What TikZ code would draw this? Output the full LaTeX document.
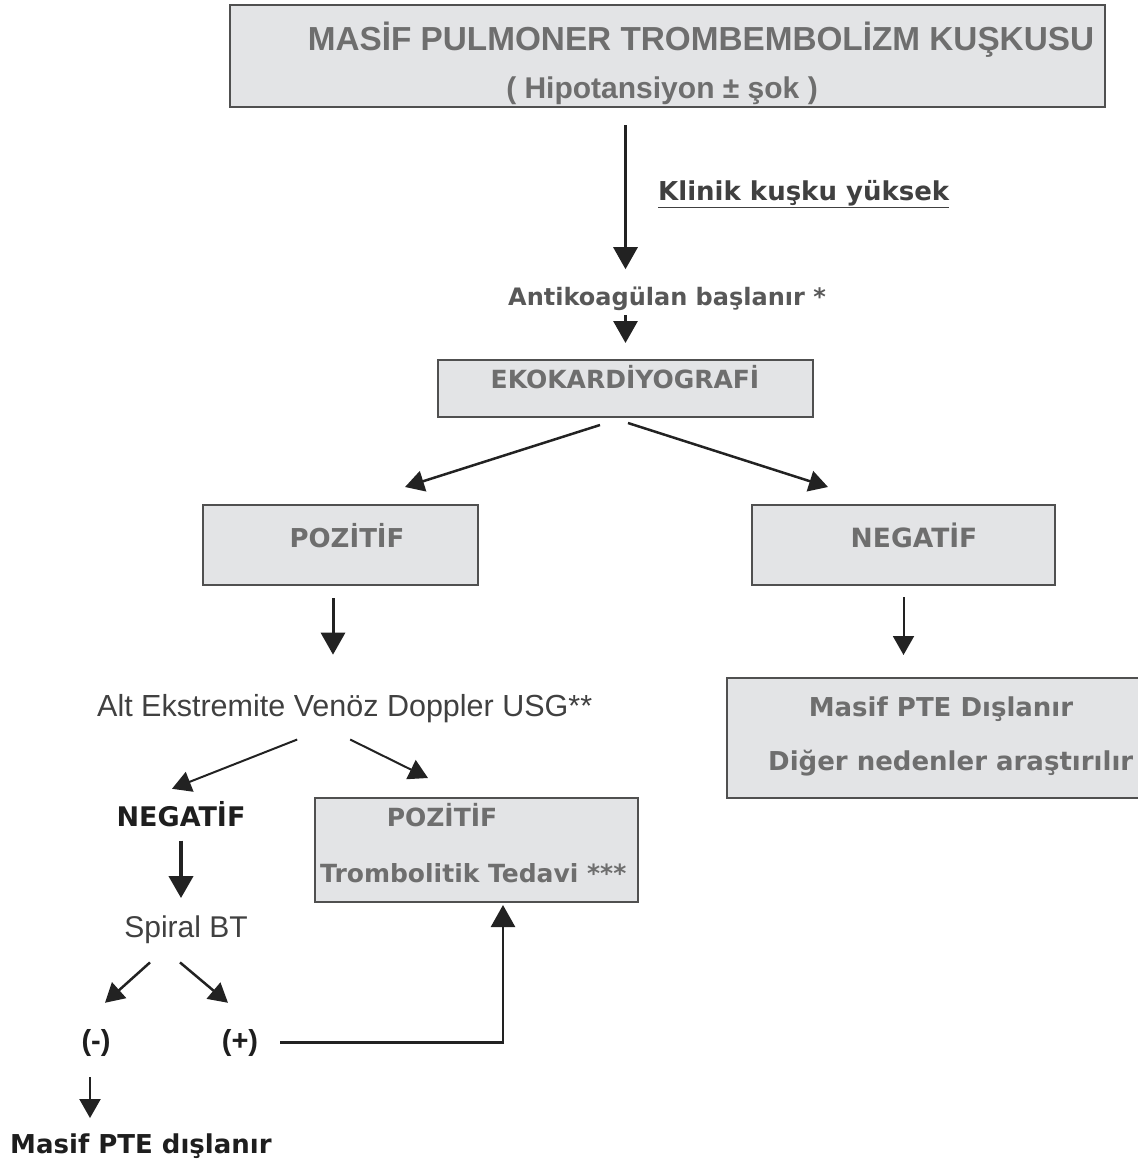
\documentclass[tikz,border=0pt]{standalone}
\usepackage{fontspec}
\setmainfont{Liberation Sans}
\newfontfamily\verdfont{DejaVu Sans}
\usepackage{tikz}
\usetikzlibrary{arrows.meta}
\definecolor{kutuzemin}{HTML}{E3E4E6}
\definecolor{kutucizgi}{HTML}{505050}
\definecolor{griyazi}{HTML}{6E6E6E}
\definecolor{koyuyazi}{HTML}{1E1E1E}
\definecolor{okrenk}{HTML}{222222}
\tikzset{
  kutu/.style={draw=kutucizgi, fill=kutuzemin, line width=2.2pt, inner sep=0pt, outer sep=0pt},
  yazi/.style={inner sep=0pt, anchor=base, text=griyazi},
  kalin/.style={font=\verdfont\bfseries\fontsize{#1}{#1}\selectfont},
  arial/.style={font=\fontsize{#1}{#1}\selectfont},
  ok/.style={draw=okrenk, line width=3pt, -{Triangle[width=24pt,length=22pt]}},
  ince/.style={draw=okrenk, line width=2pt, -{Triangle[width=21pt,length=19pt]}}
}
\begin{document}
\begin{tikzpicture}[x=1pt,y=-1pt]
\useasboundingbox (0,0) rectangle (1138,1165);
\clip (0,0) rectangle (1138,1165);
\node[kutu, minimum width=875pt, minimum height=102pt] (ust) at (667.5,56) {};
\node[kutu, minimum width=375pt, minimum height=57pt] (eko) at (625.5,388.5) {};
\node[kutu, minimum width=275pt, minimum height=80pt] (pozkutu) at (340.5,545) {};
\node[kutu, minimum width=303pt, minimum height=80pt] (negkutu) at (903.5,545) {};
\node[kutu, minimum width=443pt, minimum height=120pt] (diskutu) at (948.5,738) {};
\node[kutu, minimum width=323pt, minimum height=104pt] (trombo) at (476.5,850) {};
\node[yazi, font=\bfseries\fontsize{33.3}{33}\selectfont] (baslik) at (701,50) {MASİF PULMONER TROMBEMBOLİZM KUŞKUSU};
\node[yazi, font=\bfseries\fontsize{30}{30}\selectfont] (hipo) at (662,98) {( Hipotansiyon ± şok )};
\node[yazi, kalin=26, text=koyuyazi!85!white, anchor=base west] (klinik) at (658,200) {\underline{Klinik kuşku yüksek}};
\node[yazi, kalin=24, text=griyazi!80!black, anchor=base west] (antiko) at (508,305) {Antikoagülan başlanır *};
\node[yazi, kalin=25] (ekoyazi) at (625,388) {EKOKARDİYOGRAFİ};
\node[yazi, kalin=26] (pozyazi) at (347,547) {POZİTİF};
\node[yazi, kalin=26.5] (negyazi) at (914,547) {NEGATİF};
\node[yazi, arial=30.5, text=koyuyazi!85!white, anchor=base west] (doppler) at (97,716) {Alt Ekstremite Venöz Doppler USG**};
\node[yazi, kalin=26] (disyazi) at (941,716) {Masif PTE Dışlanır};
\node[yazi, kalin=26, anchor=base west] (diger) at (768,770) {Diğer nedenler araştırılır};
\node[yazi, kalin=27, text=koyuyazi] (neg2) at (181,826) {NEGATİF};
\node[yazi, kalin=25] (poz2) at (442,826) {POZİTİF};
\node[yazi, kalin=25, anchor=base west] (tedavi) at (320,882) {Trombolitik Tedavi ***};
\node[yazi, arial=30, text=koyuyazi!85!white] (spiral) at (186,937) {Spiral BT};
\node[yazi, font=\bfseries\fontsize{29}{29}\selectfont, text=koyuyazi] (eksi) at (96,1050) {(-)};
\node[yazi, font=\bfseries\fontsize{29}{29}\selectfont, text=koyuyazi] (arti) at (240,1050) {(+)};
\node[yazi, kalin=26, text=koyuyazi, anchor=base west] (sonuc) at (10,1153) {Masif PTE dışlanır};
\draw[ok, shorten <=18pt, shorten >=17pt] (ust.south -| eko) -- (antiko.north -| eko);
\draw[ok, shorten <=5pt, shorten >=17pt] (antiko.south -| eko) -- (eko.north);
\draw[ince, line width=2.5pt] ([xshift=-25.5pt,yshift=-8pt]eko.south) -- ([xshift=64.5pt,yshift=18pt]pozkutu.north);
\draw[ince, line width=2.5pt] ([xshift=2.5pt,yshift=-6pt]eko.south) -- ([xshift=-75.5pt,yshift=18pt]negkutu.north);
\draw[ok, shorten <=13pt, shorten >=39pt] ([xshift=-7.5pt]pozkutu.south) -- ([xshift=-7.5pt]pozkutu.south |- doppler.north);
\draw[ince, shorten <=12pt, shorten >=23pt] (negkutu.south) -- (negkutu.south |- diskutu.north);
\draw[ince] ([xshift=-47.5pt,yshift=-17pt]doppler.south) -- ([xshift=-9pt,yshift=12pt]neg2.north);
\draw[ince] ([xshift=5.5pt,yshift=-17pt]doppler.south) -- ([xshift=-48.5pt,yshift=20pt]trombo.north);
\draw[ok, line width=4pt, shorten <=14pt, shorten >=17pt] (neg2.south) -- (neg2.south |- spiral.north);
\draw[ince, line width=2.5pt] ([xshift=-36pt,yshift=-19pt]spiral.south) -- ([xshift=9pt,yshift=26pt]eksi.north);
\draw[ince, line width=2.5pt] ([xshift=-6pt,yshift=-19pt]spiral.south) -- ([xshift=-12pt,yshift=26pt]arti.north);
\draw[ok, line width=2.5pt] ([xshift=22pt]arti.east) -| ([xshift=26.5pt,yshift=-3pt]trombo.south);
\draw[ince, shorten <=21pt, shorten >=15pt] ([xshift=-6pt]eksi.south) -- ([xshift=-6pt]eksi.south |- sonuc.north);
\end{tikzpicture}
\end{document}
